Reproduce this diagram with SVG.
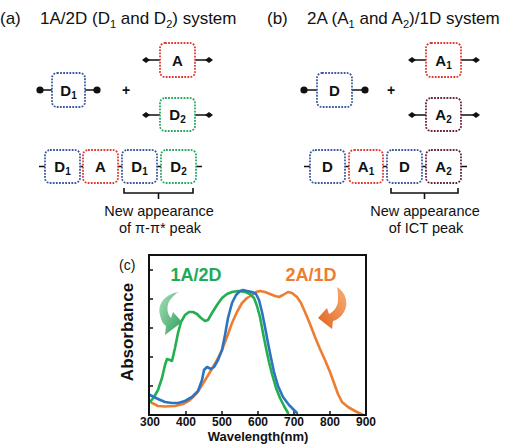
<svg xmlns="http://www.w3.org/2000/svg" width="507" height="444" viewBox="0 0 507 444">
<defs>
<style>
text{font-family:"Liberation Sans",Arial,sans-serif;fill:#111}
.title{font-size:17px}
.lbl{font-size:15px;font-weight:bold;text-anchor:middle}
.note{font-size:14.5px;text-anchor:middle}
.box{fill:#fff;stroke-width:1.8;stroke-dasharray:1.8 1.3}
.blue{stroke:#3a5aa0}
.red{stroke:#e03a32}
.green{stroke:#27a85f}
.maroon{stroke:#6a1f3e}
.conn{stroke:#111;stroke-width:1.6;fill:none}
.tick{font-size:12px;font-weight:bold;text-anchor:middle}
.curve{fill:none;stroke-width:2.6;stroke-linejoin:round;stroke-linecap:round}
</style>
<linearGradient id="gG" x1="0" y1="0" x2="1" y2="1">
<stop offset="0" stop-color="#a9dfb9"/>
<stop offset="1" stop-color="#2c9e5b"/>
</linearGradient>
<linearGradient id="gO" x1="1" y1="0" x2="0" y2="1">
<stop offset="0" stop-color="#f6b07a"/>
<stop offset="1" stop-color="#e0631c"/>
</linearGradient>
</defs>
<rect width="507" height="444" fill="#fff"/>

<!-- titles -->
<text class="title" x="0" y="24">(a)</text>
<text class="title" x="40" y="24">1A/2D (D<tspan font-size="11" dy="4">1</tspan><tspan dy="-4"> and D</tspan><tspan font-size="11" dy="4">2</tspan><tspan dy="-4">) system</tspan></text>
<text class="title" x="267" y="24">(b)</text>
<text class="title" x="307" y="24">2A (A<tspan font-size="11" dy="4">1</tspan><tspan dy="-4"> and A</tspan><tspan font-size="11" dy="4">2</tspan><tspan dy="-4">)/1D system</tspan></text>

<!-- connectors -->
<g id="connectors">
<path class="conn" d="M40,90H52M85,90H97M146,60H160M195,60H209M146,115H160M195,115H209"/>
<path class="conn" d="M304,90H317M352,90H365M412,60H426M461,60H476M412,115H426M461,115H476"/>
<g fill="#111">
<circle cx="40" cy="90" r="3.6"/><circle cx="97" cy="90" r="3.6"/>
<circle cx="304" cy="90" r="3.6"/><circle cx="365" cy="90" r="3.6"/>
<polygon points="142,60 146,57 150,60 146,63"/><polygon points="205,60 209,57 213,60 209,63"/>
<polygon points="142,115 146,112 150,115 146,118"/><polygon points="205,115 209,112 213,115 209,118"/>
<polygon points="408,60 412,57 416,60 412,63"/><polygon points="472,60 476,57 480,60 476,63"/>
<polygon points="408,115 412,112 416,115 412,118"/><polygon points="472,115 476,112 480,115 476,118"/>
</g>
<path class="conn" d="M39,166.5H45M80,166.5H83M118,166.5H122M157,166.5H161M196,166.5H202"/>
<path class="conn" d="M304,166.5H310M345,166.5H349M383,166.5H387M422,166.5H426M461,166.5H467"/>
<path class="conn" stroke-width="1.3" d="M124,188V193H193V188M158.5,193V199"/>
<path class="conn" stroke-width="1.3" d="M391,188V193H458V188M424.5,193V199"/>
</g>

<!-- plus signs -->
<text x="126" y="95" font-size="14" font-weight="bold" text-anchor="middle">+</text>
<text x="391" y="95" font-size="14" font-weight="bold" text-anchor="middle">+</text>

<!-- (a) top nodes -->
<g id="a-D1"><rect class="box blue" x="52" y="73" width="33" height="34" rx="5"/><text class="lbl" x="68.5" y="96">D<tspan font-size="10" dy="3">1</tspan></text></g>
<g id="a-A"><rect class="box red" x="160" y="43" width="35" height="34" rx="5"/><text class="lbl" x="177.5" y="65.5">A</text></g>
<g id="a-D2"><rect class="box green" x="160" y="98" width="35" height="33" rx="5"/><text class="lbl" x="177.5" y="120">D<tspan font-size="10" dy="3">2</tspan></text></g>

<!-- (a) chain -->
<g id="a-chain-D1"><rect class="box blue" x="45" y="150" width="35" height="33" rx="5"/><text class="lbl" x="62.5" y="172">D<tspan font-size="10" dy="3">1</tspan></text></g>
<g id="a-chain-A"><rect class="box red" x="83" y="150" width="35" height="33" rx="5"/><text class="lbl" x="100.5" y="172">A</text></g>
<g id="a-chain-D1b"><rect class="box blue" x="122" y="150" width="35" height="33" rx="5"/><text class="lbl" x="139.5" y="172">D<tspan font-size="10" dy="3">1</tspan></text></g>
<g id="a-chain-D2"><rect class="box green" x="161" y="150" width="35" height="33" rx="5"/><text class="lbl" x="178.5" y="172">D<tspan font-size="10" dy="3">2</tspan></text></g>
<text class="note" x="159" y="216">New appearance</text>
<text class="note" x="160" y="233">of π-π* peak</text>

<!-- (b) top nodes -->
<g id="b-D"><rect class="box blue" x="317" y="73" width="35" height="34" rx="5"/><text class="lbl" x="334.5" y="95.5">D</text></g>
<g id="b-A1"><rect class="box red" x="426" y="43" width="35" height="34" rx="5"/><text class="lbl" x="443.5" y="66">A<tspan font-size="10" dy="3">1</tspan></text></g>
<g id="b-A2"><rect class="box maroon" x="426" y="98" width="35" height="33" rx="5"/><text class="lbl" x="443.5" y="120">A<tspan font-size="10" dy="3">2</tspan></text></g>

<!-- (b) chain -->
<g id="b-chain-D"><rect class="box blue" x="310" y="150" width="35" height="33" rx="5"/><text class="lbl" x="327.5" y="172">D</text></g>
<g id="b-chain-A1"><rect class="box red" x="349" y="150" width="34" height="33" rx="5"/><text class="lbl" x="366" y="172">A<tspan font-size="10" dy="3">1</tspan></text></g>
<g id="b-chain-D2"><rect class="box blue" x="387" y="150" width="35" height="33" rx="5"/><text class="lbl" x="404.5" y="172">D</text></g>
<g id="b-chain-A2"><rect class="box maroon" x="426" y="150" width="35" height="33" rx="5"/><text class="lbl" x="443.5" y="172">A<tspan font-size="10" dy="3">2</tspan></text></g>
<text class="note" x="425" y="216">New appearance</text>
<text class="note" x="426" y="233">of ICT peak</text>

<!-- (c) plot -->
<text x="119" y="270" font-size="14">(c)</text>
<text x="0" y="0" font-size="17" font-weight="bold" text-anchor="middle" transform="translate(133,332) rotate(-90)">Absorbance</text>
<path d="M149,270h4M149,299h4M149,328h4M149,357h4M149,386h4M186,415v-4M222,415v-4M258,415v-4M294,415v-4M330,415v-4" stroke="#111" stroke-width="1.5"/>
<g class="tick-labels">
<text class="tick" x="150" y="426">300</text>
<text class="tick" x="186" y="426">400</text>
<text class="tick" x="222" y="426">500</text>
<text class="tick" x="258" y="426">600</text>
<text class="tick" x="294" y="426">700</text>
<text class="tick" x="330" y="426">800</text>
<text class="tick" x="366" y="426">900</text>
</g>
<text x="258" y="441" font-size="13" font-weight="bold" text-anchor="middle">Wavelength(nm)</text>

<path class="curve" stroke="#ed7d31" d="M152,403L158,406L165,406.5L175,406L183,404L190,400L197,393L204,382L210,372L216,362L222,350L227,337L232,323L237,312L242,303L247,298L252,295L256,292L260,291L265,292L270,294L275,296L279,297L283,295L288,292L292,293L297,297L301,303L305,312L310,324L315,337L320,349L325,360L330,372L334,383L338,394L342,402L348,407L355,411L363,415"/>
<path class="curve" stroke="#22b04e" d="M150,402L154,397L158,390L162,378L165,365L167,359L170,360L172,361L175,348L178,333L181,322L185,315L189,312L193,312L197,314L201,318L205,321L208,320L212,313L217,305L222,298L227,294L232,292L238,291L245,292L250,294L254,298L257,306L260,317L263,333L266,348L269,362L272,374L276,388L280,398L284,406L288,413"/>
<path class="curve" stroke="#2d74c0" d="M150,395L158,399L165,402L172,403L178,403L185,401L192,397L198,391L202,380L204,370L207,367L211,369L214,367L218,360L222,350L225,335L228,318L232,303L236,295L240,291L243,290L247,291L252,292L256,294L259,300L262,312L265,327L268,343L271,358L274,372L278,386L283,397L289,405L297,413"/>

<rect x="149" y="255" width="217" height="160" fill="none" stroke="#111" stroke-width="2"/>

<path d="M179,292 C166,294 157,303 160,315 C161,320 163,324 166,326 L165,335 L182,322 L173,312 L171,318 C167,314 166,306 170,300 C173,296 176,293 179,292 Z" fill="url(#gG)"/>
<path d="M337,287 C346,292 349,304 344,312 C341,317 337,320 333,321 L332,329 L318,318 L327,308 L329,314 C334,312 338,306 338,300 C338,295 338,291 337,287 Z" fill="url(#gO)"/>

<text x="196" y="281" font-size="18" font-weight="bold" text-anchor="middle" style="fill:#22a955">1A/2D</text>
<text x="311" y="281" font-size="18" font-weight="bold" text-anchor="middle" style="fill:#ed7d31">2A/1D</text>
</svg>
